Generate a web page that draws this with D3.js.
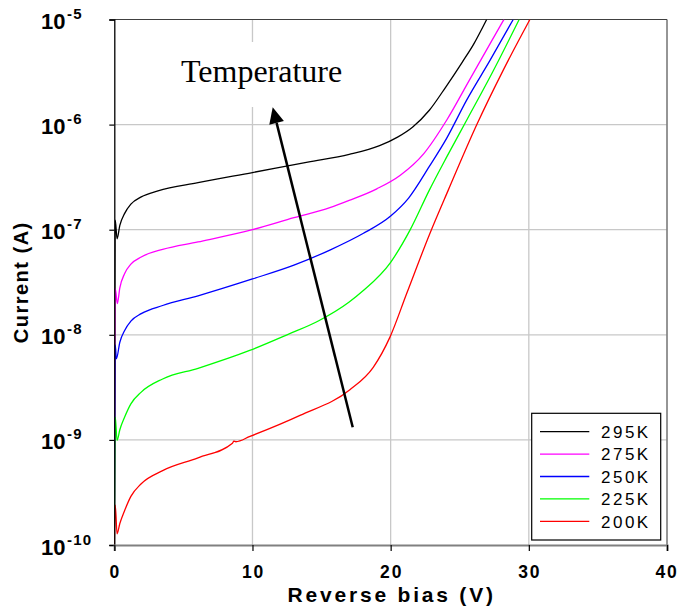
<!DOCTYPE html>
<html>
<head>
<meta charset="utf-8">
<script src="https://cdn.jsdelivr.net/npm/d3@7"></script>
<style>
body { margin: 0; background: #fff; }
</style>
</head>
<body>
<div id="chart"></div>
<script>
// I-V curves at several temperatures
let series = ["295K", "275K", "250K", "225K", "200K"];
let colors = ["#000000", "#ff00ff", "#0000ff", "#00ff00", "#ff0000"];

let bias295 = [0, 0.07, 0.2, 0.4, 0.75, 1.2, 1.95, 3.16, 6.06, 10, 14, 17, 19.2, 20.5, 21.6, 22.8, 24, 25.2, 26, 26.95];
let cur295 = [1e-10, 1.23e-7, 8.2e-8, 1.1e-7, 1.43e-7, 1.75e-7, 2.05e-7, 2.34e-7, 2.8e-7, 3.5e-7, 4.4e-7, 5.2e-7, 6.3e-7, 7.6e-7, 9.5e-7, 1.37e-6, 2.29e-6, 3.96e-6, 5.8e-6, 1e-5];

let bias275 = [0, 0.07, 0.22, 0.4, 0.75, 1.2, 1.95, 3.5, 6.06, 10, 13, 15.6, 17, 19, 20.7, 22.4, 24.05, 25.7, 27.2, 28.2];
let cur275 = [1e-10, 2.75e-8, 1.98e-8, 2.8e-8, 3.83e-8, 4.7e-8, 5.5e-8, 6.5e-8, 7.65e-8, 1.0e-7, 1.3e-7, 1.62e-7, 1.9e-7, 2.45e-7, 3.3e-7, 5.3e-7, 1.1e-6, 2.65e-6, 5.9e-6, 1e-5];

let bias250 = [0, 0.07, 0.15, 0.4, 0.75, 1.2, 1.95, 3.5, 6.06, 10, 13, 15.6, 18, 20, 21.3, 22.8, 24.05, 25.5, 27.2, 28.87];
let cur250 = [1e-10, 8e-9, 5.9e-9, 8.5e-9, 1.1e-8, 1.35e-8, 1.59e-8, 1.9e-8, 2.35e-8, 3.4e-8, 4.6e-8, 6.4e-8, 9.2e-8, 1.35e-7, 2.0e-7, 4e-7, 7.4e-7, 1.71e-6, 4.1e-6, 1e-5];

let bias225 = [0, 0.07, 0.2, 0.4, 0.75, 1.2, 1.95, 3.5, 6.06, 9.8, 12.5, 14.8, 17, 18, 20, 21.4, 22.8, 24.05, 25.5, 27.4, 29.3];
let cur225 = [1e-10, 1.65e-9, 9.9e-10, 1.25e-9, 1.65e-9, 2.2e-9, 2.85e-9, 3.8e-9, 4.8e-9, 7.1e-9, 1.0e-8, 1.36e-8, 2.05e-8, 2.62e-8, 4.9e-8, 9.9e-8, 2.38e-7, 4.9e-7, 1.1e-6, 3.2e-6, 1e-5];

let bias200 = [0, 0.07, 0.2, 0.4, 0.75, 1.2, 1.95, 3.5, 6.06, 8.55, 8.65, 8.8, 9.82, 13.44, 17.05, 18.74, 19.95, 21.16, 22.84, 24.17, 26.22, 28.15, 30.08];
let cur200 = [1e-10, 2.4e-10, 1.28e-10, 1.6e-10, 2.13e-10, 2.9e-10, 3.83e-10, 5.1e-10, 6.75e-10, 9.3e-10, 9.75e-10, 9.6e-10, 1.08e-9, 1.71e-9, 3.0e-9, 4.9e-9, 9.5e-9, 2.47e-8, 9.2e-8, 2.38e-7, 9.9e-7, 3.3e-6, 1e-5];

let biasList = [bias295, bias275, bias250, bias225, bias200];
let curList = [cur295, cur275, cur250, cur225, cur200];

let xTicks = [0, 10, 20, 30, 40];
let yTicks = [-10, -9, -8, -7, -6, -5];

let width = 678;
let height = 609;
let margin = {left: 114.3, right: 11, top: 19.5, bottom: 64};

let svg = d3.select("#chart").append("svg")
    .attr("width", width)
    .attr("height", height)
    .attr("viewBox", "0 0 " + width + " " + height);

let x = d3.scaleLinear().domain([0, 40]).range([margin.left, width - margin.right]);
let y = d3.scaleLog().domain([1e-10, 1e-5]).range([height - margin.bottom, margin.top]);

let grid = svg.append("g");
// horizontal grid lines at each decade
grid.selectAll("line.h").data(yTicks.slice(1, -1)).enter().append("line")
    .attr("x1", x(0)).attr("x2", x(40))
    .attr("y1", d => y(Math.pow(10, d))).attr("y2", d => y(Math.pow(10, d)))
    .attr("stroke", "#c8c8c8").attr("stroke-width", 1.3);
// vertical grid lines
grid.selectAll("line.v").data(xTicks.slice(1)).enter().append("line")
    .attr("x1", d => x(d)).attr("x2", d => x(d))
    .attr("y1", y(1e-5)).attr("y2", y(1e-10))
    .attr("stroke", "#c8c8c8").attr("stroke-width", 1.3);

// top and right frame
svg.append("line").attr("x1", x(0)).attr("x2", x(40)).attr("y1", y(1e-5)).attr("y2", y(1e-5))
    .attr("stroke", "#404040").attr("stroke-width", 1.2);
svg.append("line").attr("x1", x(40)).attr("x2", x(40)).attr("y1", y(1e-5)).attr("y2", y(1e-10))
    .attr("stroke", "#505050").attr("stroke-width", 1);

// label "Temperature" with white background hiding the grid line
svg.append("rect").attr("x", 176).attr("y", 42).attr("width", 172).attr("height", 65).attr("fill", "#fff");
svg.append("text")
    .text("Temperature")
    .attr("x", 181).attr("y", 81.5)
    .attr("font-family", "'Liberation Serif', 'Times New Roman', serif")
    .attr("font-size", 32)
    .attr("fill", "#000");

svg.append("defs").append("clipPath").attr("id", "plotclip")
    .append("rect").attr("x", x(0)).attr("y", y(1e-5))
    .attr("width", x(40) - x(0)).attr("height", y(1e-10) - y(1e-5));

let line = d3.line()
    .x(function(d) { return x(d[0]); })
    .y(function(d) { return y(d[1]); })
    .curve(d3.curveMonotoneX);

let curves = svg.append("g").attr("clip-path", "url(#plotclip)");
for (let i = 0; i < series.length; i++) {
    let pts = biasList[i].map((v, j) => [v, curList[i][j]]);
    curves.append("path")
        .attr("d", line(pts))
        .attr("fill", "none")
        .attr("stroke", colors[i])
        .attr("stroke-width", 1.3);
}

// arrow
let ax0 = 352.7, ay0 = 427.3, ax1 = 272.7, ay1 = 107.3;
let ang = Math.atan2(ay1 - ay0, ax1 - ax0);
let headLen = 16, headW = 7.5;
let bx = ax1 - headLen * Math.cos(ang), by = ay1 - headLen * Math.sin(ang);
svg.append("line").attr("x1", ax0).attr("y1", ay0).attr("x2", bx).attr("y2", by)
    .attr("stroke", "#000").attr("stroke-width", 2.5);
svg.append("path")
    .attr("d", "M" + ax1 + "," + ay1
        + "L" + (bx + headW * Math.sin(ang)) + "," + (by - headW * Math.cos(ang))
        + "L" + (bx - headW * Math.sin(ang)) + "," + (by + headW * Math.cos(ang)) + "Z")
    .attr("fill", "#000");

// axes
let yAxis = svg.append("g")
    .attr("transform", "translate(" + x(0) + ",0)")
    .call(d3.axisLeft(y).tickValues(yTicks.map(d => Math.pow(10, d))).tickSize(5).tickFormat(""));
yAxis.select(".domain").attr("stroke", "#000").attr("stroke-width", 1.3);
yAxis.selectAll(".tick line").attr("stroke", "#000").attr("stroke-width", 1.2);

let xAxis = svg.append("g")
    .attr("transform", "translate(0," + y(1e-10) + ")")
    .call(d3.axisBottom(x).tickValues(xTicks).tickSize(6).tickFormat(""));
xAxis.select(".domain").attr("stroke", "#808080").attr("stroke-width", 2.2);
xAxis.selectAll(".tick line").attr("stroke", "#000").attr("stroke-width", 1.2);

// y tick labels 10^n
let ylab = svg.append("g")
    .attr("font-family", "Arial, 'Liberation Sans', sans-serif")
    .attr("font-weight", "bold")
    .attr("fill", "#000");
yTicks.forEach(function(p) {
    let t = ylab.append("text")
        .attr("x", 41)
        .attr("y", y(Math.pow(10, p)) + 9.5);
    t.append("tspan").text("10").attr("font-size", 22);
    t.append("tspan").text(p).attr("font-size", 15).attr("dx", 1.5).attr("dy", -10).attr("letter-spacing", 1.2);
});

// x tick labels
svg.append("g").selectAll("text").data(xTicks).enter().append("text")
    .text(d => d)
    .attr("x", d => x(d) + (d === 40 ? 0 : 1))
    .attr("y", 578.3)
    .attr("text-anchor", "middle")
    .attr("font-family", "Arial, 'Liberation Sans', sans-serif")
    .attr("font-weight", "bold")
    .attr("font-size", 17.5)
    .attr("letter-spacing", 1.8);

// axis titles
svg.append("text")
    .text("Reverse bias (V)")
    .attr("x", (x(0) + x(40)) / 2 + 1)
    .attr("y", 601.7)
    .attr("text-anchor", "middle")
    .attr("font-family", "Arial, 'Liberation Sans', sans-serif")
    .attr("font-weight", "bold")
    .attr("font-size", 21)
    .attr("letter-spacing", 2.8);

svg.append("text")
    .text("Current (A)")
    .attr("transform", "translate(28," + ((y(1e-5) + y(1e-10)) / 2) + ") rotate(-90)")
    .attr("text-anchor", "middle")
    .attr("font-family", "Arial, 'Liberation Sans', sans-serif")
    .attr("font-weight", "bold")
    .attr("font-size", 20)
    .attr("letter-spacing", 1.5);

// legend
let legend = svg.append("g");
legend.append("rect")
    .attr("x", 531.7).attr("y", 413.3)
    .attr("width", 129).attr("height", 126.7)
    .attr("fill", "#fff").attr("stroke", "#000").attr("stroke-width", 1.2);
series.forEach(function(s, i) {
    let cy = 431.7 + i * 22.4;
    legend.append("line")
        .attr("x1", 540).attr("x2", 589.3)
        .attr("y1", cy).attr("y2", cy)
        .attr("stroke", colors[i]).attr("stroke-width", 1.3);
    legend.append("text")
        .text(s)
        .attr("x", 601).attr("y", cy + 6.2)
        .attr("font-family", "Arial, 'Liberation Sans', sans-serif")
        .attr("font-size", 17)
        .attr("letter-spacing", 2.5);
});
</script>
</body>
</html>
